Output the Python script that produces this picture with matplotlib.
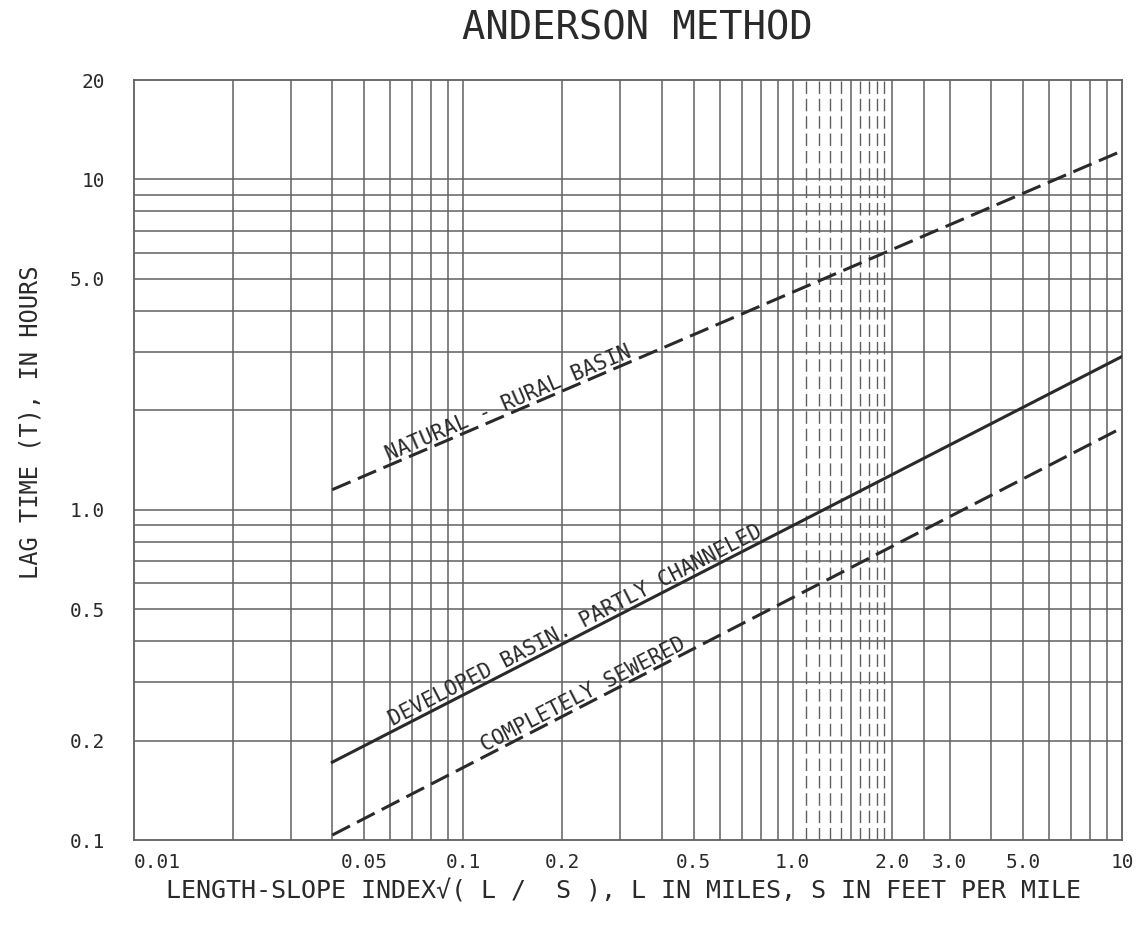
import numpy as np
import matplotlib
matplotlib.use("Agg")
import matplotlib.pyplot as plt

plt.rcParams['font.family'] = ['DejaVu Sans Mono', 'DejaVu Sans']

# axis ticks / labels
x_ticks = [0.01, 0.05, 0.1, 0.2, 0.5, 1.0, 2.0, 3.0, 5.0, 10]
x_tick_labels = ["0.01", "0.05", "0.1", "0.2", "0.5", "1.0", "2.0", "3.0", "5.0", "10"]
y_ticks = [0.1, 0.2, 0.5, 1.0, 5.0, 10, 20]
y_tick_labels = ["0.1", "0.2", "0.5", "1.0", "5.0", "10", "20"]

# grid lines of the log paper
x_grid_solid = [0.02, 0.03, 0.04, 0.05, 0.06, 0.07, 0.08, 0.09, 0.1,
                0.2, 0.3, 0.4, 0.5, 0.6, 0.7, 0.8, 0.9, 1.0,
                1.5, 2.0, 2.5, 3.0, 4.0, 5.0, 6.0, 7.0, 8.0, 9.0]
x_grid_dashed = [1.1, 1.2, 1.3, 1.4, 1.6, 1.7, 1.8, 1.9]
y_grid = [0.2, 0.3, 0.4, 0.5, 0.6, 0.7, 0.8, 0.9, 1.0,
          2, 3, 4, 5, 6, 7, 8, 9, 10]

# curves (straight lines on log-log paper, end points)
curve_x = [0.04, 10]
natural_y = [1.15, 12.2]
developed_y = [0.172, 2.91]
sewered_y = [0.1035, 1.77]

natural_label = "NATURAL - RURAL BASIN"
developed_label = "DEVELOPED BASIN. PARTLY CHANNELED"
sewered_label = "COMPLETELY SEWERED"

ink = '#2a2a2a'
grid_col = '#606060'

fig = plt.figure(figsize=(11.45, 9.33), dpi=100)
ax = fig.add_axes([134 / 1145, 1 - 840 / 933, 988 / 1145, 760 / 933])
ax.set_xscale('log')
ax.set_yscale('log')
ax.set_xlim(0.01, 10)
ax.set_ylim(0.1, 20)

for xv in x_grid_solid:
    ax.axvline(xv, color=grid_col, lw=1.1, zorder=1)
for xv in x_grid_dashed:
    ax.axvline(xv, color=grid_col, lw=1.0, zorder=1, dashes=(9, 3.5))
for yv in y_grid:
    ax.axhline(yv, color=grid_col, lw=1.1, zorder=1)

for s in ax.spines.values():
    s.set_color(grid_col)
    s.set_linewidth(1.3)

ax.plot(curve_x, natural_y, color=ink, lw=2.2, dashes=(6.5, 2.6), zorder=3)
ax.plot(curve_x, developed_y, color=ink, lw=2.2, zorder=3)
ax.plot(curve_x, sewered_y, color=ink, lw=2.2, dashes=(6.5, 2.6), zorder=3)


def line_label(xs, ys, x_at, txt):
    lx, ly = np.log10(xs), np.log10(ys)
    y_at = 10 ** np.interp(np.log10(x_at), lx, ly)
    p1 = ax.transData.transform((xs[0], ys[0]))
    p2 = ax.transData.transform((xs[1], ys[1]))
    ang = np.degrees(np.arctan2(p2[1] - p1[1], p2[0] - p1[0]))
    ax.text(x_at, y_at, txt, rotation=ang, rotation_mode='anchor',
            ha='left', va='bottom', fontsize=15, color=ink, zorder=4)


line_label(curve_x, natural_y, 0.06, natural_label)
line_label(curve_x, developed_y, 0.062, developed_label)
line_label(curve_x, sewered_y, 0.118, sewered_label)

ax.minorticks_off()
ax.set_xticks(x_ticks)
ax.set_xticklabels(x_tick_labels)
ax.set_yticks(y_ticks)
ax.set_yticklabels(y_tick_labels)
ax.tick_params(axis='both', length=0, labelsize=14, colors=ink)
ax.tick_params(axis='x', pad=9)
ax.tick_params(axis='y', pad=21)
ax.get_xticklabels()[0].set_ha('left')

ax.set_xlabel("LENGTH-SLOPE INDEX\u221a( L /  S ), L IN MILES, S IN FEET PER MILE",
              fontsize=18, color=ink)
ax.xaxis.set_label_coords(0.495, -0.052)
ax.set_ylabel("LAG TIME (T), IN HOURS", fontsize=17, color=ink)
ax.yaxis.set_label_coords(-0.093, 0.55)

fig.text(637 / 1145, 1 - 28 / 933, "ANDERSON METHOD", fontsize=28,
         color=ink, ha='center', va='center')

fig.savefig('out.png', dpi=100, facecolor='white')
